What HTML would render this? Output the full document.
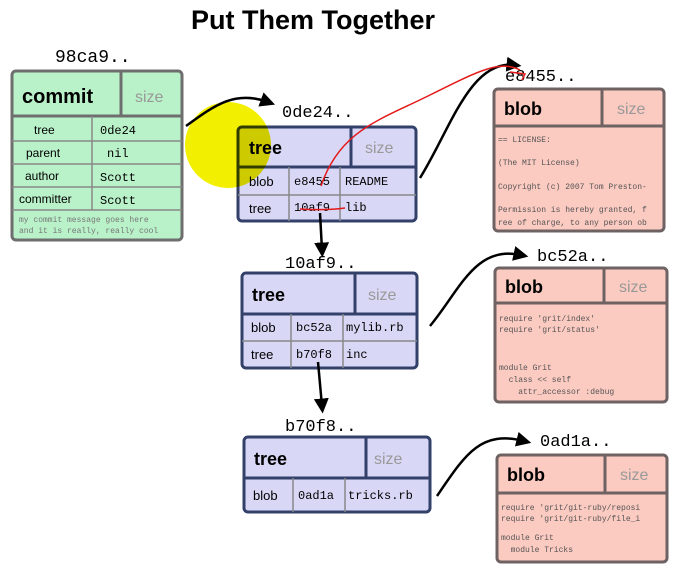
<!DOCTYPE html><html><head><style>
body{margin:0;background:#fff;width:692px;height:574px;overflow:hidden}
</style></head><body>
<svg width="692" height="574" xmlns="http://www.w3.org/2000/svg" font-family="Liberation Sans, sans-serif">
<text x="313" y="29" text-anchor="middle" font-size="27" font-weight="bold">Put Them Together</text>
<defs><marker id="a" markerWidth="6" markerHeight="6" refX="3" refY="3" orient="auto"><path d="M0,0 L6,3 L0,6 z" fill="#000"/></marker></defs>
<!-- commit -->
<text x="55" y="62" font-size="18" font-family="Liberation Mono, monospace">98ca9..</text>
<g stroke="#6e6e6e" stroke-width="3" fill="#b9f1c9">
<rect x="12" y="71" width="170" height="169" rx="4"/>
<line x1="12" y1="116" x2="182" y2="116"/><line x1="121" y1="71" x2="121" y2="116"/>
</g>
<g stroke="#888" stroke-width="1.5">
<line x1="12" y1="141" x2="182" y2="141"/><line x1="12" y1="164" x2="182" y2="164"/><line x1="12" y1="187" x2="182" y2="187"/><line x1="12" y1="210" x2="182" y2="210"/><line x1="92" y1="116" x2="92" y2="210"/>
</g>
<text x="22" y="103" font-size="20" font-weight="bold">commit</text>
<text x="135" y="102" font-size="16" fill="#999">size</text>
<g font-size="12"><text x="34" y="134">tree</text><text x="26" y="157">parent</text><text x="25" y="180">author</text><text x="19" y="203">committer</text></g>
<g font-size="12" font-family="Liberation Mono, monospace"><text x="100" y="134">0de24</text><text x="107" y="157">nil</text><text x="100" y="181">Scott</text><text x="100" y="204">Scott</text></g>
<g font-size="8" fill="#777" font-family="Liberation Mono, monospace"><text x="19" y="222">my commit message goes here</text><text x="19" y="233">and it is really, really cool</text></g>
<!-- trees -->
<g font-family="Liberation Mono, monospace" font-size="17"><text x="282" y="117">0de24..</text><text x="285" y="268">10af9..</text><text x="285" y="431">b70f8..</text>
<text x="505" y="81">e8455..</text><text x="537" y="261">bc52a..</text><text x="540" y="446">0ad1a..</text></g>
<g stroke="#33416a" stroke-width="3" fill="#d8d8f6">
<rect x="238" y="127" width="178" height="94" rx="4"/><line x1="238" y1="167" x2="416" y2="167"/><line x1="351" y1="127" x2="351" y2="167"/>
<rect x="242" y="273" width="175" height="95" rx="4"/><line x1="242" y1="314" x2="417" y2="314"/><line x1="355" y1="273" x2="355" y2="314"/>
<rect x="244" y="437" width="186" height="75" rx="4"/><line x1="244" y1="478" x2="430" y2="478"/><line x1="366" y1="437" x2="366" y2="478"/>
</g>
<g stroke="#888" stroke-width="1.5">
<line x1="238" y1="195" x2="416" y2="195"/><line x1="289" y1="167" x2="289" y2="221"/><line x1="340" y1="167" x2="340" y2="221"/>
<line x1="242" y1="341" x2="417" y2="341"/><line x1="291" y1="314" x2="291" y2="368"/><line x1="343" y1="314" x2="343" y2="368"/>
<line x1="293" y1="478" x2="293" y2="512"/><line x1="345" y1="478" x2="345" y2="512"/>
</g>
<g font-size="18" font-weight="bold"><text x="249" y="154">tree</text><text x="252" y="301">tree</text><text x="254" y="465">tree</text></g>
<g font-size="16" fill="#999"><text x="365" y="153">size</text><text x="368" y="300">size</text><text x="374" y="464">size</text></g>
<g font-size="13"><text x="249" y="186">blob</text><text x="249" y="213">tree</text><text x="251" y="332">blob</text><text x="251" y="359">tree</text><text x="253" y="500">blob</text></g>
<g font-size="12" font-family="Liberation Mono, monospace"><text x="294" y="185">e8455</text><text x="345" y="185">README</text><text x="294" y="211">10af9</text><text x="345" y="211">lib</text>
<text x="296" y="331">bc52a</text><text x="346" y="331">mylib.rb</text><text x="296" y="358">b70f8</text><text x="346" y="358">inc</text>
<text x="298" y="499">0ad1a</text><text x="348" y="499">tricks.rb</text></g>
<circle cx="228" cy="145" r="43" fill="#f2f000" style="mix-blend-mode:multiply"/>
<!-- blobs -->
<g stroke="#6e6262" stroke-width="3" fill="#fbcac1">
<rect x="494" y="89" width="170" height="142" rx="4"/><line x1="494" y1="126" x2="664" y2="126"/><line x1="602" y1="89" x2="602" y2="126"/>
<rect x="495" y="268" width="172" height="134" rx="4"/><line x1="495" y1="303" x2="667" y2="303"/><line x1="604" y1="268" x2="604" y2="303"/>
<rect x="497" y="455" width="170" height="107" rx="4"/><line x1="497" y1="493" x2="667" y2="493"/><line x1="605" y1="455" x2="605" y2="493"/>
</g>
<g font-size="18" font-weight="bold"><text x="504" y="115">blob</text><text x="505" y="293">blob</text><text x="507" y="481">blob</text></g>
<g font-size="16" fill="#999"><text x="617" y="114">size</text><text x="619" y="292">size</text><text x="620" y="480">size</text></g>
<g font-size="8" fill="#555" font-family="Liberation Mono, monospace">
<text x="498" y="142">== LICENSE:</text><text x="498" y="165">(The MIT License)</text><text x="498" y="189">Copyright (c) 2007 Tom Preston-</text><text x="498" y="212">Permission is hereby granted, f</text><text x="498" y="225">ree of charge, to any person ob</text>
<text x="499" y="321">require 'grit/index'</text><text x="499" y="332">require 'grit/status'</text><text x="499" y="370">module Grit</text><text x="499" y="382" xml:space="preserve">  class &lt;&lt; self</text><text x="499" y="394" xml:space="preserve">    attr_accessor :debug</text>
<text x="501" y="510">require 'grit/git-ruby/reposi</text><text x="501" y="521">require 'grit/git-ruby/file_i</text><text x="501" y="540">module Grit</text><text x="501" y="552" xml:space="preserve">  module Tricks</text>
</g>
<!-- arrows -->
<g fill="none" stroke="#000" stroke-width="2.5" marker-end="url(#a)">
<path d="M186,126 C215,105 235,90 268,102"/>
<path d="M420,178 C450,130 470,60 514,65"/>
<path d="M430,326 C460,290 475,245 521,255"/>
<path d="M437,496 C465,455 480,430 524,441"/>
<path d="M320,213 L322,250"/>
<path d="M318,362 L322,406"/>
</g>
<g fill="none" stroke="#e41a1a" stroke-width="1.5">
<path d="M321,186 C340,130 380,120 430,95 C480,70 500,60 520,70"/>
<path d="M510,72 L525,74 L522,80"/>
<path d="M300,209 C315,210 330,210 345,208"/>
</g>
</svg>
</body></html>
